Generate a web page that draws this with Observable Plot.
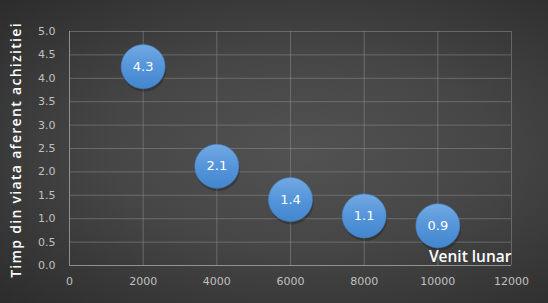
<!DOCTYPE html>
<html>
<head>
<meta charset="utf-8">
<script src="https://cdn.jsdelivr.net/npm/d3@7"></script>
<script src="https://cdn.jsdelivr.net/npm/@observablehq/plot@0.6"></script>
<style>
html,body{margin:0;padding:0;}
body{width:548px;height:303px;overflow:hidden;
background:radial-gradient(ellipse at 55% 50%, #525252 0%, #464646 45%, #2c2c2c 100%);}
#chart{position:relative;width:548px;height:303px;}
</style>
</head>
<body>
<div id="chart"></div>
<script>
const incomes = [2000, 4000, 6000, 8000, 10000];
const lifeTime = [4.25, 2.12, 1.41, 1.06, 0.85];
const bubbleLabels = ["4.3", "2.1", "1.4", "1.1", "0.9"];
const xTicks = [0, 2000, 4000, 6000, 8000, 10000, 12000];
const yTicks = [0, 0.5, 1, 1.5, 2, 2.5, 3, 3.5, 4, 4.5, 5];
const yTitle = "Timp din viata aferent achizitiei";
const xTitle = "Venit lunar";

const data = incomes.map((x, i) => ({x, y: lifeTime[i], label: bubbleLabels[i]}));
const font = "DejaVu Sans, sans-serif";
const titleFont = "Open Sans, sans-serif";

const chart = Plot.plot({
  width: 548,
  height: 303,
  marginLeft: 69,
  marginRight: 37,
  marginTop: 31,
  marginBottom: 38,
  style: {background: "transparent", color: "#c8c8c8", fontFamily: font, fontSize: "11px", overflow: "visible"},
  x: {domain: [0, 12000], ticks: xTicks, tickFormat: d => String(d)},
  y: {domain: [0, 5], ticks: yTicks, tickFormat: d => d.toFixed(1)},
  marks: [
    Plot.gridX(xTicks, {stroke: "#8a8a8a", strokeOpacity: 0.55}),
    Plot.gridY(yTicks, {stroke: "#8a8a8a", strokeOpacity: 0.55}),
    Plot.ruleX([0], {stroke: "#9a9a9a", strokeOpacity: 0.8}),
    Plot.ruleY([0], {stroke: "#9a9a9a", strokeOpacity: 0.8}),
    Plot.axisX(xTicks, {tickSize: 0, tickPadding: 12, fill: "#c0c0c0", fontSize: 11, label: null, tickFormat: d => String(d)}),
    Plot.axisY(yTicks, {tickSize: 0, tickPadding: 14, fill: "#c0c0c0", fontSize: 11, label: null, tickFormat: d => d.toFixed(1)}),
    Plot.dot(data, {x: "x", y: "y", r: 22, fill: "#1a1a1a", fillOpacity: 0.35, dx: 1, dy: 3}),
    Plot.dot(data, {x: "x", y: "y", r: 22, fill: "url(#bubbleGrad)", stroke: "#4585cc", strokeWidth: 0.6}),
    Plot.text(data, {x: "x", y: "y", text: "label", fill: "white", fontSize: 13, fontFamily: font}),
    Plot.text([xTitle], {frameAnchor: "bottom-right", dx: 0, dy: -4, fill: "white", fontSize: 15.5, fontWeight: 600, fontFamily: titleFont, letterSpacing: 2.2})
  ]
});

const defs = document.createElementNS("http://www.w3.org/2000/svg", "defs");
defs.innerHTML = `<linearGradient id="bubbleGrad" x1="0" y1="0" x2="0" y2="1">
  <stop offset="0" stop-color="#72a9e2"/>
  <stop offset="0.5" stop-color="#5595da"/>
  <stop offset="1" stop-color="#4386cd"/>
</linearGradient>`;
chart.insertBefore(defs, chart.firstChild);

// y-axis title
const t = document.createElementNS("http://www.w3.org/2000/svg", "text");
t.setAttribute("transform", "translate(21,150) rotate(-90)");
t.setAttribute("text-anchor", "middle");
t.setAttribute("fill", "white");
t.setAttribute("font-size", "14");
t.setAttribute("font-weight", "600");
t.setAttribute("letter-spacing", "1.3");
t.setAttribute("font-family", titleFont);
t.textContent = yTitle;
chart.appendChild(t);

document.getElementById("chart").appendChild(chart);
</script>
</body>
</html>
